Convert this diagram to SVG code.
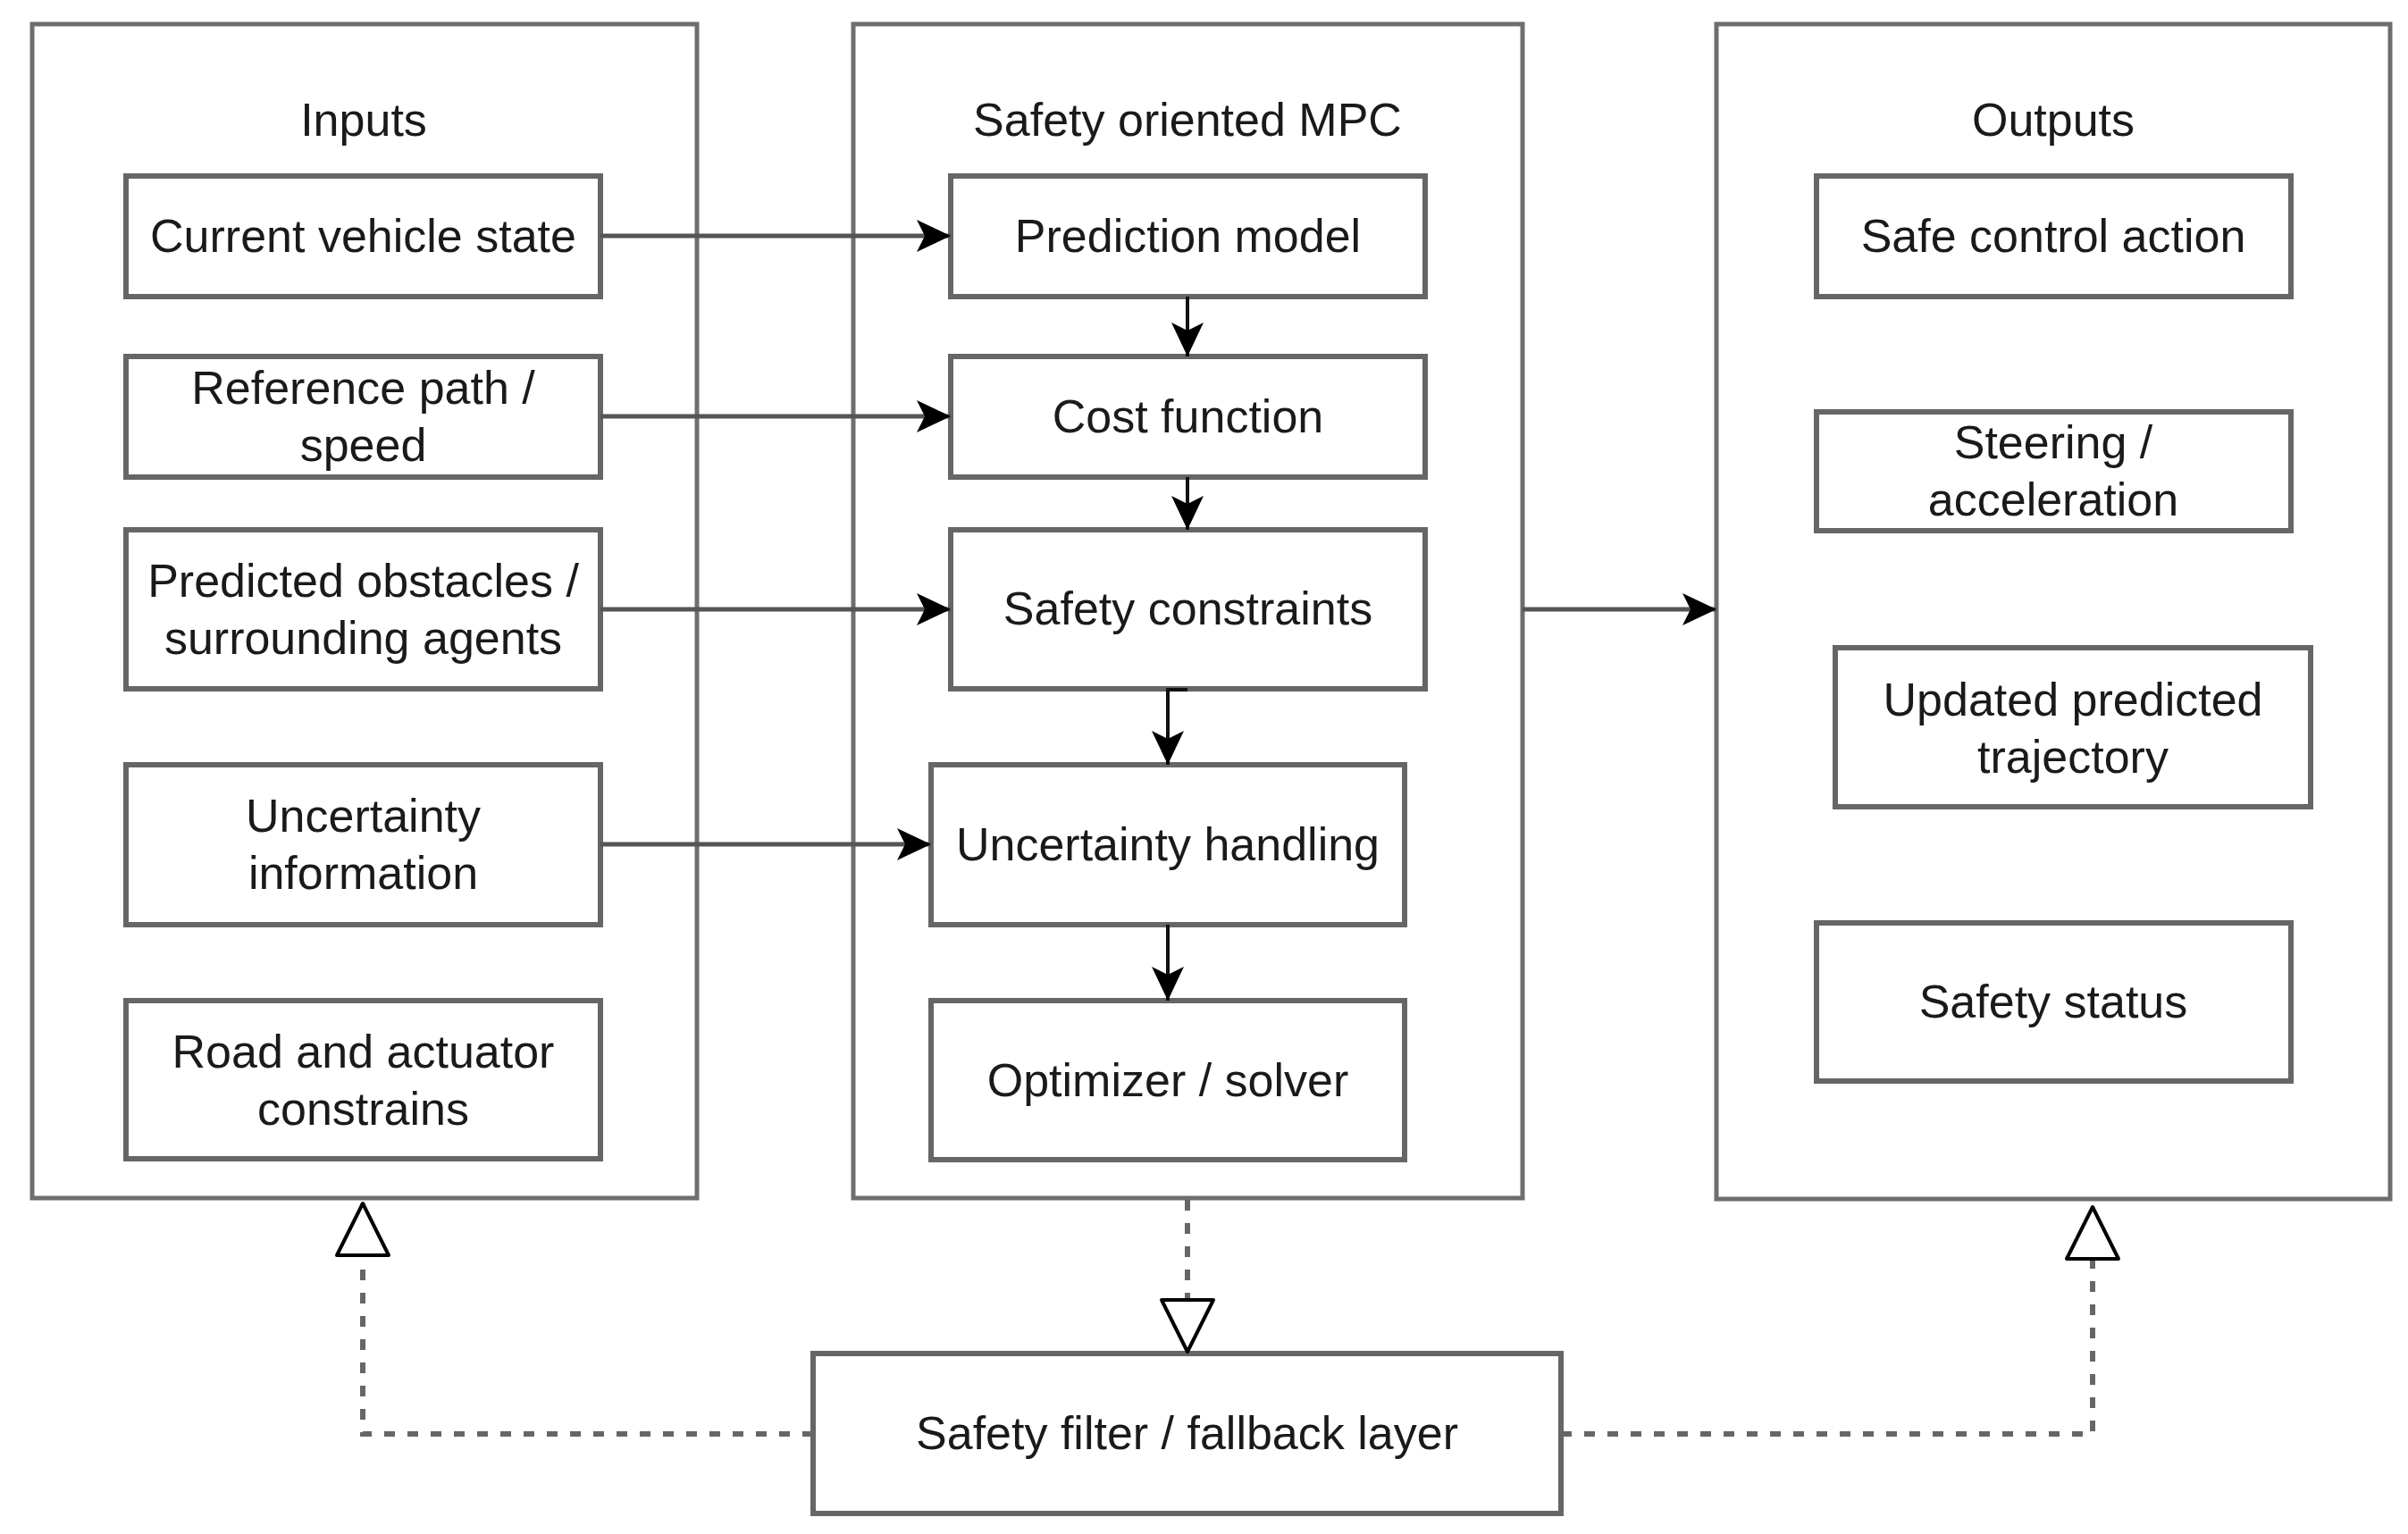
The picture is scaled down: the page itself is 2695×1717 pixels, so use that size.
<svg xmlns="http://www.w3.org/2000/svg" width="2695" height="1717" viewBox="0 0 2695 1717">
  <defs>
    <style>
      .container { fill: #ffffff; stroke: #6e6e6e; stroke-width: 5; }
      .box { fill: #ffffff; stroke: #666666; stroke-width: 6; }
      .lbl { font-family: "Liberation Sans", Arial, Helvetica, sans-serif; font-size: 52px; fill: #1a1a1a; text-anchor: middle; }
      .hconn { fill: none; stroke: #555555; stroke-width: 5; }
      .vconn { fill: none; stroke: #111111; stroke-width: 4; }
      .dconn { fill: none; stroke: #666666; stroke-width: 6; stroke-dasharray: 12 14; }
    </style>
    <marker id="arrow" viewBox="0 0 38 36" refX="38" refY="18" markerWidth="38" markerHeight="36" markerUnits="userSpaceOnUse" orient="auto">
      <path d="M0,0 L38,18 L0,36 L9,18 Z" fill="#000000"/>
    </marker>
    <marker id="hollow" viewBox="-3 -3 64 64" refX="58" refY="29" markerWidth="64" markerHeight="64" markerUnits="userSpaceOnUse" orient="auto">
      <path d="M0,0 L58,29 L0,58 Z" fill="#ffffff" stroke="#000000" stroke-width="4" stroke-linejoin="round"/>
    </marker>
  </defs>
  <rect x="0" y="0" width="2695" height="1717" fill="#ffffff"/>

  <g id="inputs">
    <rect class="container" x="36" y="27" width="744" height="1314"/>
    <text class="lbl" x="407" y="152">Inputs</text>
  </g>
  <g id="mpc">
    <rect class="container" x="955" y="27" width="749" height="1314"/>
    <text class="lbl" x="1329" y="152">Safety oriented MPC</text>
  </g>
  <g id="outputs">
    <rect class="container" x="1921" y="27" width="754" height="1315"/>
    <text class="lbl" x="2298" y="152">Outputs</text>
  </g>

  <g id="current-vehicle-state">
    <rect class="box" x="141" y="197" width="531" height="135"/>
    <text class="lbl" x="406.5" y="282">Current vehicle state</text>
  </g>
  <g id="reference-path">
    <rect class="box" x="141" y="399" width="531" height="135"/>
    <text class="lbl" x="406.5" y="452">Reference path /</text>
    <text class="lbl" x="406.5" y="516">speed</text>
  </g>
  <g id="predicted-obstacles">
    <rect class="box" x="141" y="593" width="531" height="178"/>
    <text class="lbl" x="406.5" y="668">Predicted obstacles /</text>
    <text class="lbl" x="406.5" y="732">surrounding agents</text>
  </g>
  <g id="uncertainty-information">
    <rect class="box" x="141" y="856" width="531" height="179"/>
    <text class="lbl" x="406.5" y="931">Uncertainty</text>
    <text class="lbl" x="406.5" y="995">information</text>
  </g>
  <g id="road-actuator">
    <rect class="box" x="141" y="1120" width="531" height="177"/>
    <text class="lbl" x="406.5" y="1195">Road and actuator</text>
    <text class="lbl" x="406.5" y="1259">constrains</text>
  </g>

  <g id="prediction-model">
    <rect class="box" x="1064" y="197" width="531" height="135"/>
    <text class="lbl" x="1329.5" y="282">Prediction model</text>
  </g>
  <g id="cost-function">
    <rect class="box" x="1064" y="399" width="531" height="135"/>
    <text class="lbl" x="1329.5" y="484">Cost function</text>
  </g>
  <g id="safety-constraints">
    <rect class="box" x="1064" y="593" width="531" height="178"/>
    <text class="lbl" x="1329.5" y="699">Safety constraints</text>
  </g>
  <g id="uncertainty-handling">
    <rect class="box" x="1042" y="856" width="530" height="179"/>
    <text class="lbl" x="1307" y="963">Uncertainty handling</text>
  </g>
  <g id="optimizer">
    <rect class="box" x="1042" y="1120" width="530" height="178"/>
    <text class="lbl" x="1307" y="1227">Optimizer / solver</text>
  </g>

  <g id="safe-control-action">
    <rect class="box" x="2033" y="197" width="531" height="135"/>
    <text class="lbl" x="2298" y="282">Safe control action</text>
  </g>
  <g id="steering">
    <rect class="box" x="2033" y="461" width="531" height="133"/>
    <text class="lbl" x="2298" y="513">Steering /</text>
    <text class="lbl" x="2298" y="577">acceleration</text>
  </g>
  <g id="updated-trajectory">
    <rect class="box" x="2054" y="725" width="532" height="178"/>
    <text class="lbl" x="2320" y="801">Updated predicted</text>
    <text class="lbl" x="2320" y="865">trajectory</text>
  </g>
  <g id="safety-status">
    <rect class="box" x="2033" y="1033" width="531" height="177"/>
    <text class="lbl" x="2298" y="1139">Safety status</text>
  </g>

  <g id="safety-filter">
    <rect class="box" x="910" y="1515" width="837" height="179"/>
    <text class="lbl" x="1328.5" y="1622">Safety filter / fallback layer</text>
  </g>

  <g id="connectors">
    <path class="hconn" d="M672,264 H1064" marker-end="url(#arrow)"/>
    <path class="hconn" d="M672,466 H1064" marker-end="url(#arrow)"/>
    <path class="hconn" d="M672,682 H1064" marker-end="url(#arrow)"/>
    <path class="hconn" d="M672,945 H1042" marker-end="url(#arrow)"/>
    <path class="hconn" d="M1704,682 H1921" marker-end="url(#arrow)"/>
    <path class="vconn" d="M1329,332 V399" marker-end="url(#arrow)"/>
    <path class="vconn" d="M1329,534 V593" marker-end="url(#arrow)"/>
    <path class="vconn" d="M1329,772 H1307 V856" marker-end="url(#arrow)"/>
    <path class="vconn" d="M1307,1035 V1120" marker-end="url(#arrow)"/>
    <path class="dconn" d="M1329,1343 V1513" marker-end="url(#hollow)"/>
    <path class="dconn" d="M910,1605 H406 V1347" marker-end="url(#hollow)"/>
    <path class="dconn" d="M1747,1605 H2342 V1351" marker-end="url(#hollow)"/>
  </g>
</svg>
